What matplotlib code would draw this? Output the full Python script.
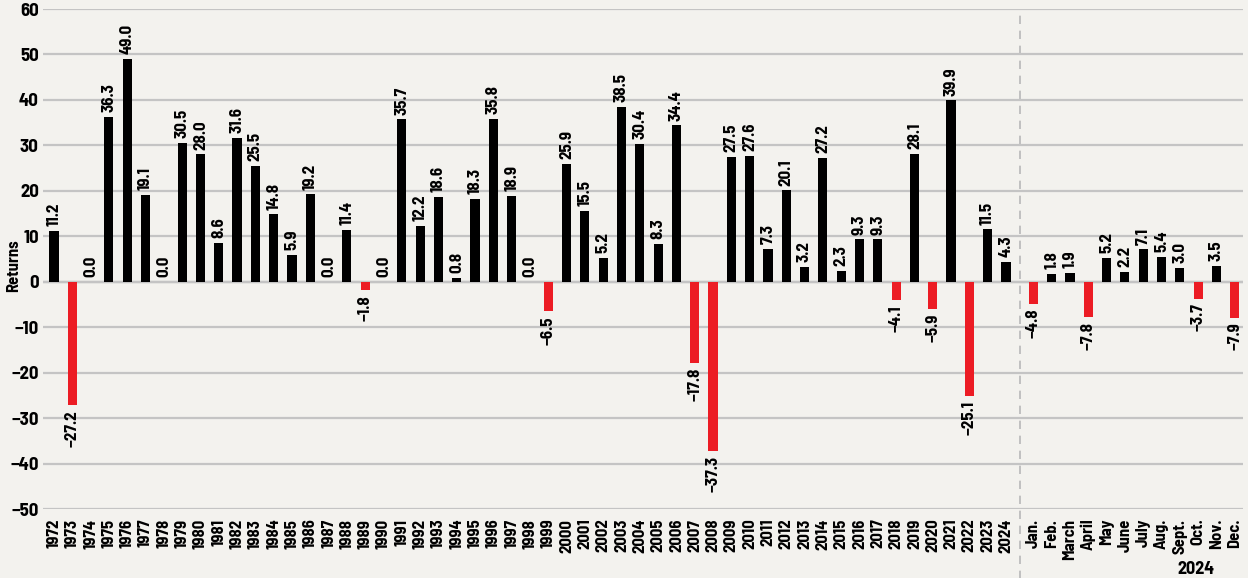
import matplotlib.pyplot as plt
import numpy as np

# annual returns 1972-2024, then monthly 2024
years = [str(y) for y in range(1972, 2025)]
year_returns = [11.2, -27.2, 0.0, 36.3, 49.0, 19.1, 0.0, 30.5, 28.0, 8.6,
                31.6, 25.5, 14.8, 5.9, 19.2, 0.0, 11.4, -1.8, 0.0, 35.7,
                12.2, 18.6, 0.8, 18.3, 35.8, 18.9, 0.0, -6.5, 25.9, 15.5,
                5.2, 38.5, 30.4, 8.3, 34.4, -17.8, -37.3, 27.5, 27.6, 7.3,
                20.1, 3.2, 27.2, 2.3, 9.3, 9.3, -4.1, 28.1, -5.9, 39.9,
                -25.1, 11.5, 4.3]
months = ["Jan.", "Feb.", "March", "April", "May", "June", "July", "Aug.",
          "Sept.", "Oct.", "Nov.", "Dec."]
month_returns = [-4.8, 1.8, 1.9, -7.8, 5.2, 2.2, 7.1, 5.4, 3.0, -3.7, 3.5, -7.9]

BG = "#f3f2ee"
RED = "#ec1c24"
plt.rcParams['font.family'] = ["Barlow Semi Condensed", "DejaVu Sans"]
plt.rcParams['font.weight'] = 'bold'

labels = years + months
values = year_returns + month_returns
x = np.concatenate([np.arange(len(years)), len(years) + 0.5 + np.arange(len(months))])
colors = [RED if v < 0 else "black" for v in values]

fig = plt.figure(figsize=(12.48, 5.78), dpi=100, facecolor=BG)
ax = fig.add_axes([43 / 1248, 1 - 509 / 578, 1200 / 1248, 500 / 578])
ax.set_facecolor(BG)

ax.bar(x, values, width=0.5, color=colors, zorder=3)

for xi, v in zip(x, values):
    s = f"{abs(v):.1f}"
    if v < 0:
        ax.annotate("\u2212" + s, (xi, v), xytext=(0, -3.5), textcoords="offset points",
                    rotation=90, ha="center", va="top", fontsize=12.2)
    else:
        ax.annotate(s, (xi, v), xytext=(0, 3.5), textcoords="offset points",
                    rotation=90, ha="center", va="bottom", fontsize=12.2)

ax.set_ylim(-50, 60)
ax.set_xlim(-0.6, x[-1] + 0.45)
ax.set_yticks(range(-50, 61, 10))
ax.set_yticklabels([str(t).replace("-", "\u2212") for t in range(-50, 61, 10)],
                   fontsize=13.5)
ax.set_xticks(x)
ax.set_xticklabels(labels, rotation=90, fontsize=12)
ax.tick_params(length=0, pad=3)
ax.tick_params(axis="x", pad=7)

ax.grid(axis="y", color="#c4c4c4", linewidth=1.6, zorder=0)
ax.axhline(0, color="#a0a0a0", linewidth=1.6, zorder=1)
for sp in ax.spines.values():
    sp.set_visible(False)

ax.axvline(len(years) - 0.25, ymin=-0.15, ymax=1.0, color="#b8b8b8",
           linestyle=(0, (5, 4)), linewidth=1.2, clip_on=False, zorder=1)

fig.text(14 / 1248, 1 - 266 / 578, "Returns", rotation=90, ha="center", va="center",
         fontsize=12)
fig.text(1196 / 1248, 1 - 578 / 578, "2024", ha="center", va="bottom",
         fontsize=13)

fig.savefig("out.png", dpi=100, facecolor=BG)
